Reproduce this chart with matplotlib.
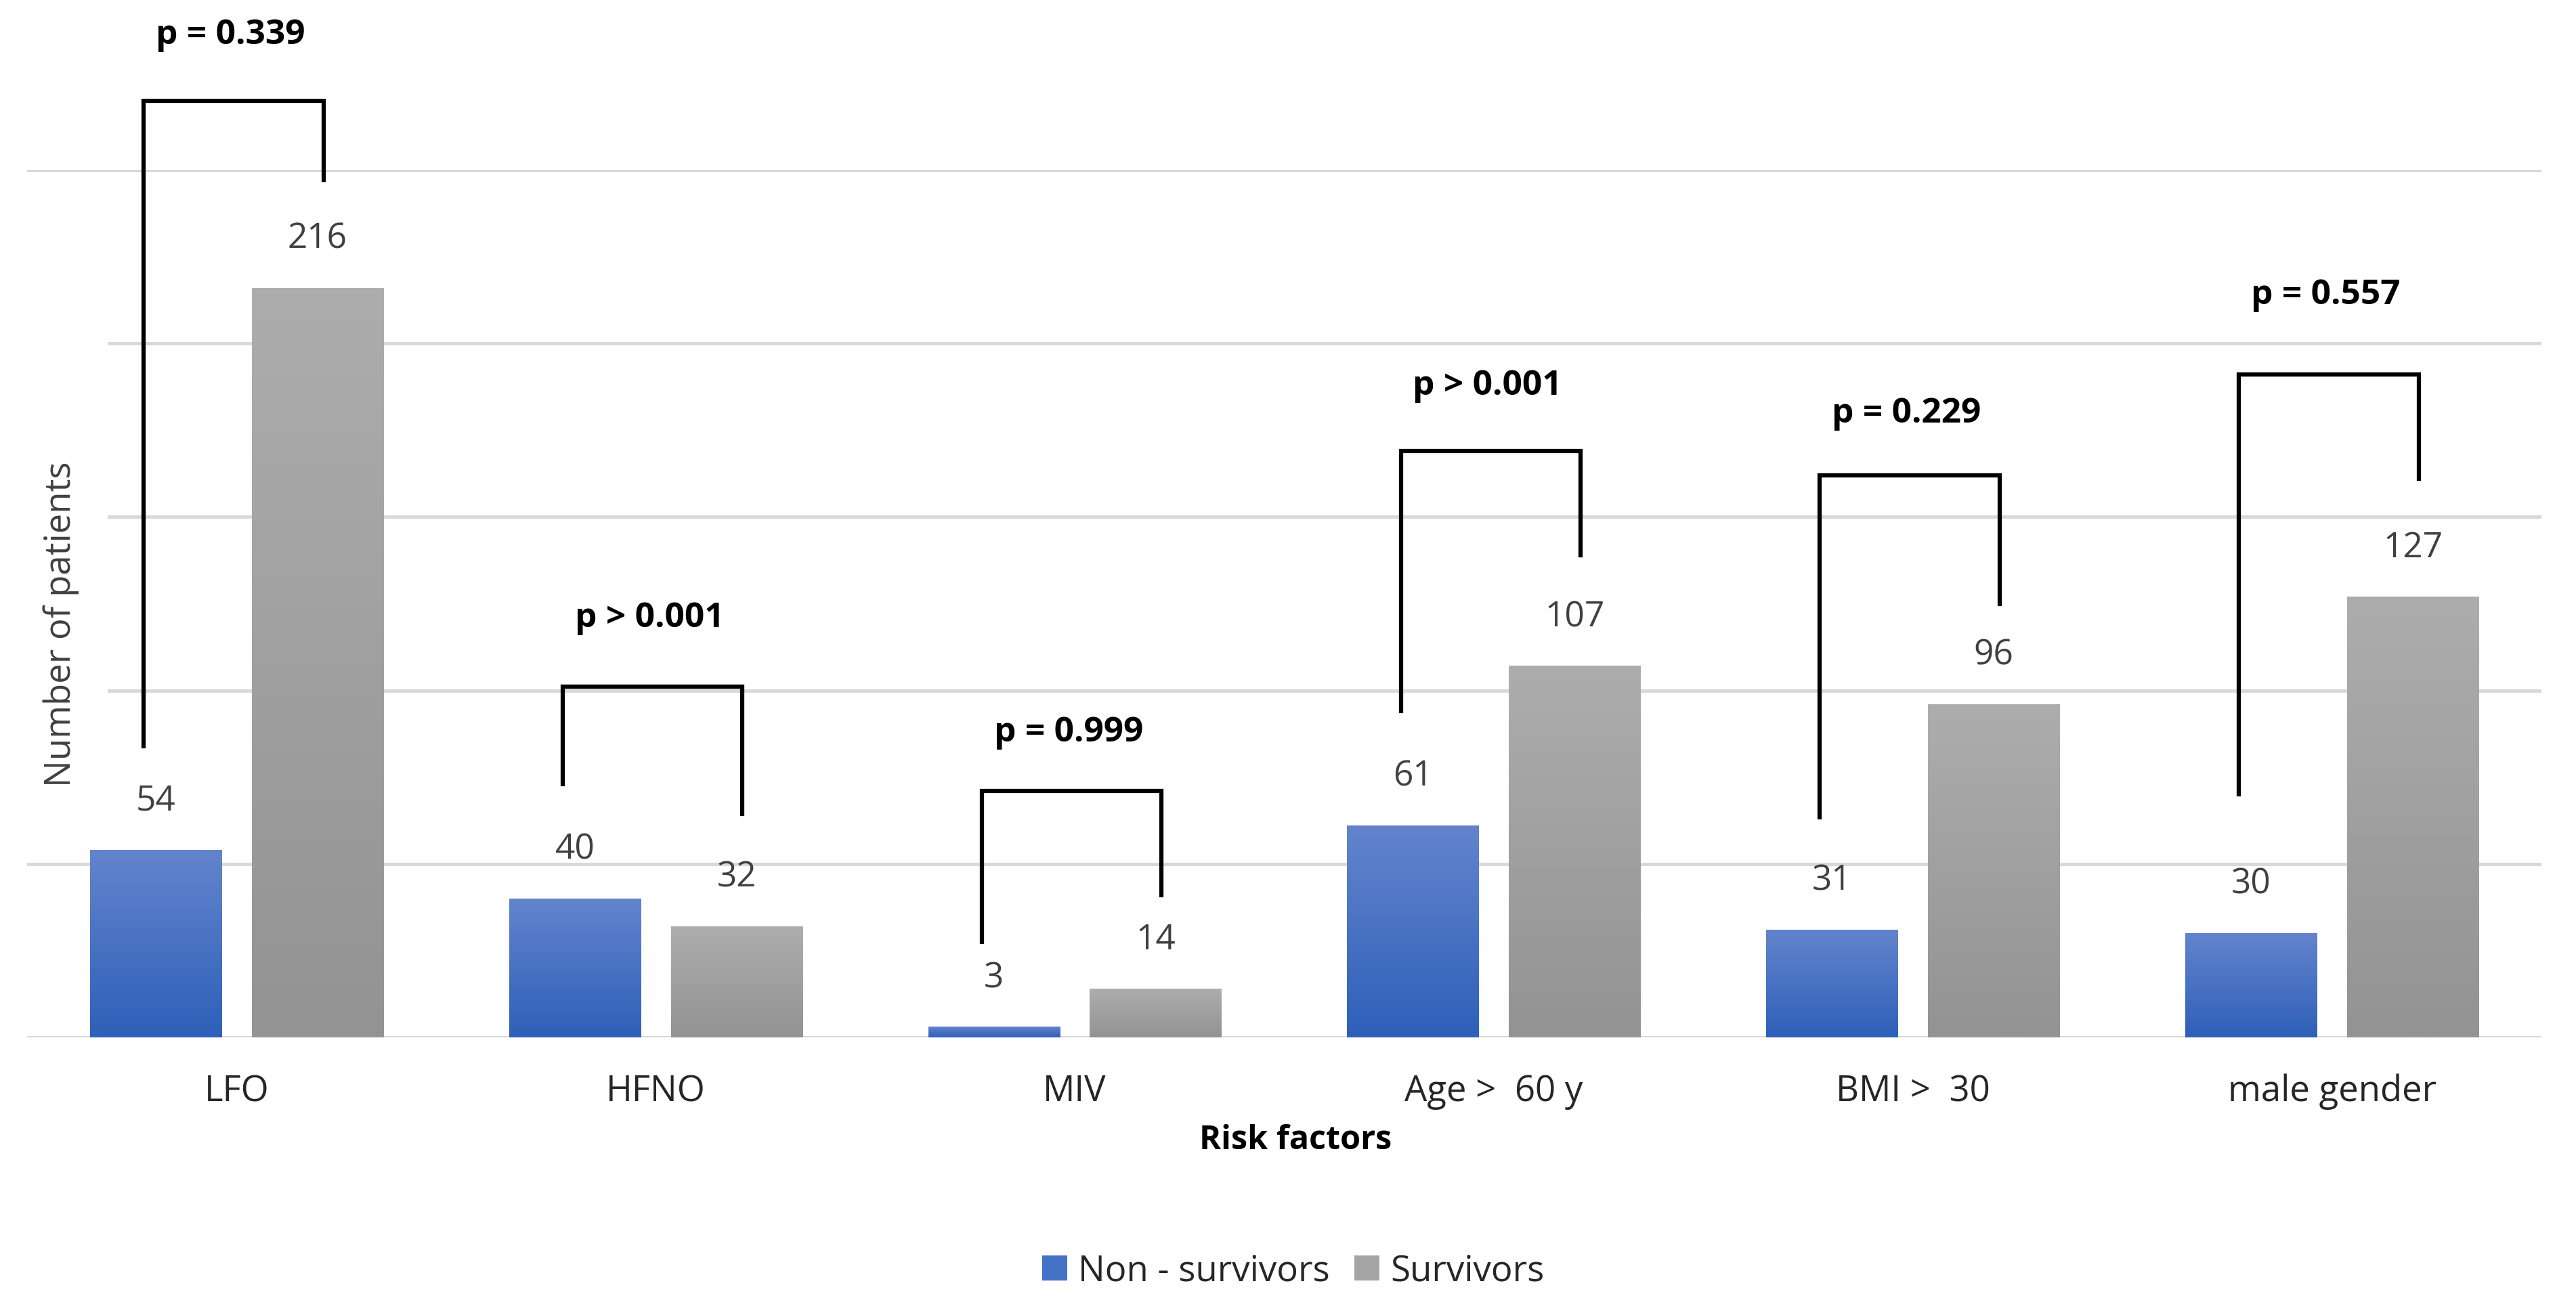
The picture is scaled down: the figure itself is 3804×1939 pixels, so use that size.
import matplotlib
matplotlib.use('Agg')
import matplotlib.pyplot as plt
import numpy as np
from matplotlib.colors import LinearSegmentedColormap
from matplotlib.patches import Patch
import matplotlib.patheffects as pe

# dane
categories = ['LFO', 'HFNO', 'MIV', 'Age >  60 y', 'BMI >  30', 'male gender']
non_survivors = [54, 40, 3, 61, 31, 30]
survivors = [216, 32, 14, 107, 96, 127]
p_labels = ['p = 0.339', 'p > 0.001', 'p = 0.999', 'p > 0.001', 'p = 0.229', 'p = 0.557']
# wysokosci klamer (w jednostkach osi y)
bracket_top = [270, 101, 71, 169, 162, 191]
bracket_left_end = [84, 73, 27.5, 94, 63.5, 70]
bracket_right_end = [247, 64.5, 41, 139, 125, 161]
p_label_y = [289, 121, 88, 188, 180, 214]

plt.rcParams['font.family'] = ['Open Sans', 'DejaVu Sans']

fig = plt.figure(figsize=(38.04, 19.40), dpi=100)
ax = fig.add_axes([0.01052, 0.20979, 0.97608, 0.66031])

x = np.arange(len(categories))
w = 0.314
off = 0.193

blue_cmap = LinearSegmentedColormap.from_list('b', ['#2e60b9', '#6384cd'])
gray_cmap = LinearSegmentedColormap.from_list('g', ['#939393', '#adadad'])

shadow = [pe.SimplePatchShadow(offset=(0, -3), shadow_rgbFace='#7a7a7a', alpha=0.6), pe.Normal()]
b1 = ax.bar(x - off, non_survivors, w, color='#4472c4', zorder=2, path_effects=shadow)
b2 = ax.bar(x + off, survivors, w, color='#a0a0a0', zorder=2, path_effects=shadow)

grad = np.linspace(0, 1, 256).reshape(-1, 1)
for bars, cm in [(b1, blue_cmap), (b2, gray_cmap)]:
    for bar in bars:
        x0 = bar.get_x()
        ax.imshow(grad, extent=[x0, x0 + bar.get_width(), 0, bar.get_height()],
                  origin='lower', cmap=cm, aspect='auto', zorder=3)

# etykiety wartosci
for bars, vals in [(b1, non_survivors), (b2, survivors)]:
    for bar, v in zip(bars, vals):
        ax.annotate(str(v), (bar.get_x() + bar.get_width() / 2, bar.get_height()),
                    xytext=(0, 73), textcoords='offset pixels', ha='center', va='center',
                    fontsize=37, color='#404040', zorder=5)

# klamry z wartoscia p
for i in range(len(categories)):
    xl = x[i] - 0.222
    xr = x[i] + 0.207
    ax.plot([xl, xl, xr, xr], [bracket_left_end[i], bracket_top[i], bracket_top[i], bracket_right_end[i]],
            color='black', lw=4.5, clip_on=False, zorder=6, solid_joinstyle='miter')
    ax.text(x[i] - 0.015, p_label_y[i], p_labels[i], ha='center', va='center',
            fontsize=37, fontweight='bold', color='black', clip_on=False, zorder=6)

'''SIATKA'''
for gy in [0, 50, 250]:
    ax.axhline(gy, color='#d9d9d9', lw=3.6, zorder=0)
for gy in [100, 150, 200]:
    ax.axhline(gy, xmin=0.0325, color='#d9d9d9', lw=3.6, zorder=0)

ax.set_xlim(-0.5, 5.5)
ax.set_ylim(0, 250)
ax.set_yticks([])
ax.set_xticks(x, categories)
ax.tick_params(axis='x', length=0, pad=38, labelsize=38, labelcolor='#262626')
for s in ax.spines.values():
    s.set_visible(False)

ax.set_xlabel('Risk factors', fontsize=35, fontweight='bold', color='black')
ax.xaxis.set_label_coords(0.503, 0.1443, transform=fig.transFigure)

fig.text(0.0237, 0.5247, 'Number of patients', rotation=90, ha='center', va='center',
         fontsize=38, color='#404040')

handles = [Patch(facecolor='#4472c4', label='Non - survivors'),
           Patch(facecolor='#a5a5a5', label='Survivors')]
fig.legend(handles=handles, loc='center', bbox_to_anchor=(0.502, 0.032), ncol=2, frameon=False,
           fontsize=38, handlelength=0.7, handleheight=0.7, handletextpad=0.3,
           columnspacing=0.7, labelcolor='#262626')

plt.savefig('out.png', dpi=100)
